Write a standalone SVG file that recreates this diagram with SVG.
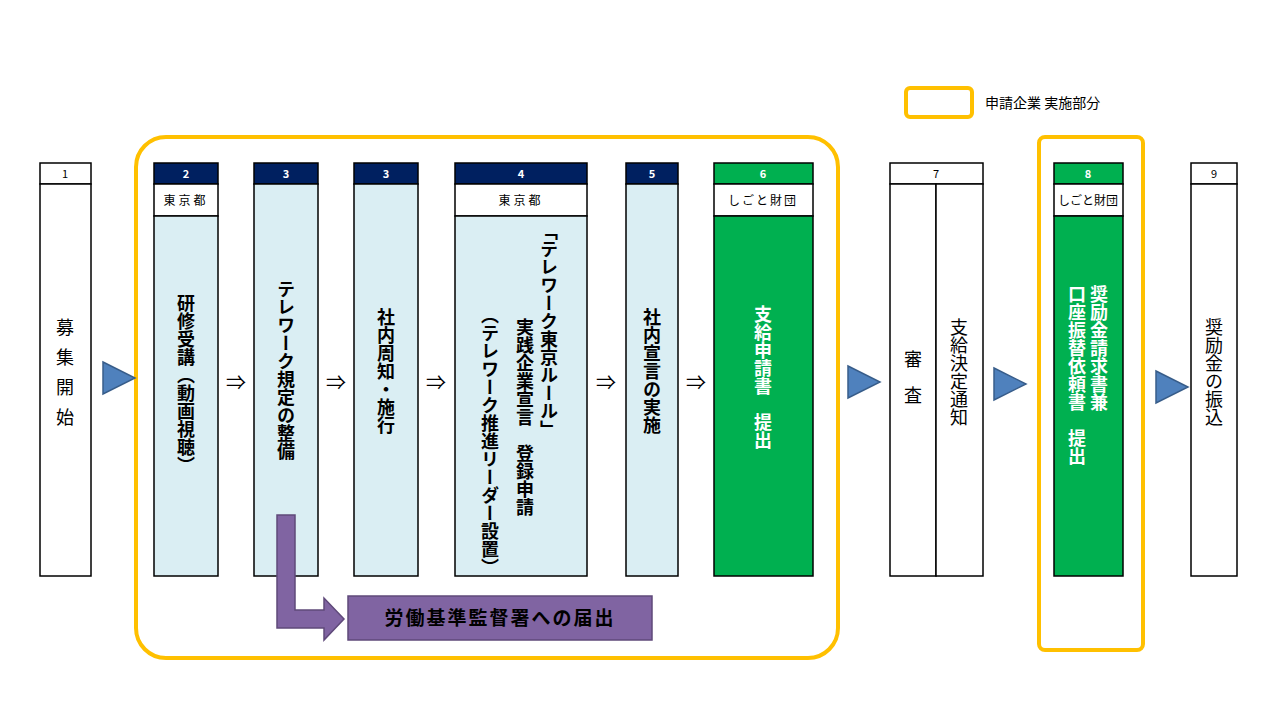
<svg xmlns="http://www.w3.org/2000/svg" width="1280" height="720" viewBox="0 0 1280 720">
<style>
text{font-family:"Noto Sans CJK JP","Liberation Sans",sans-serif;fill:#000}
.box{fill:#fff;stroke:#000;stroke-width:1.5}
.lb{fill:#DAEEF3;stroke:#000;stroke-width:1.5}
.gr{fill:#00B050;stroke:#000;stroke-width:1.5}
.nv{fill:#002060;stroke:#000;stroke-width:1.5}
.hn{font-size:11px;font-weight:bold;fill:#fff;text-anchor:middle}
.hb{font-size:11px;text-anchor:middle}
.sub{font-size:12px;text-anchor:middle}
.v{writing-mode:vertical-rl;font-size:18px}
.vb{writing-mode:vertical-rl;font-size:18px;font-weight:bold}
.w{fill:#fff}
.arr{font-size:20px;text-anchor:middle}
.tri{fill:#4F81BD;stroke:#385D8A;stroke-width:1.5}
.org{fill:none;stroke:#FFC000;stroke-width:4}
</style>
<rect class="org" x="136" y="137" width="702" height="521" rx="30"/>
<rect class="org" x="1039" y="137" width="104" height="513" rx="6"/>
<g id="legend"><rect class="org" x="906" y="88" width="66" height="29" rx="4"/><text x="985" y="108" font-size="14">申請企業 実施部分</text></g>
<g id="n1"><rect class="box" x="40" y="163" width="51" height="21"/><text class="hb" x="65" y="178">1</text><rect class="box" x="40" y="184" width="51" height="392"/><text class="v" x="65" y="318" letter-spacing="12">募集開始</text></g>
<g id="n2"><rect class="nv" x="154" y="163" width="64" height="21"/><text class="hn" x="186" y="178">2</text><rect class="box" x="154" y="184" width="64" height="32"/><text class="sub" x="186" y="205" letter-spacing="3">東京都</text><rect class="lb" x="154" y="216" width="64" height="360"/><text class="vb" x="186" y="294">研修受講（動画視聴）</text></g>
<g id="n3"><rect class="nv" x="254" y="163" width="64" height="21"/><text class="hn" x="286" y="178">3</text><rect class="lb" x="254" y="184" width="64" height="392"/><text class="vb" x="286" y="280">テレワーク規定の整備</text></g>
<g id="n3b"><rect class="nv" x="354" y="163" width="64" height="21"/><text class="hn" x="386" y="178">3</text><rect class="lb" x="354" y="184" width="64" height="392"/><text class="vb" x="386" y="308">社内周知・施行</text></g>
<g id="n4"><rect class="nv" x="455" y="163" width="132" height="21"/><text class="hn" x="521" y="178">4</text><rect class="box" x="455" y="184" width="132" height="32"/><text class="sub" x="521" y="205" letter-spacing="3">東京都</text><rect class="lb" x="455" y="216" width="132" height="360"/>
<text class="vb" x="549" y="222">「テレワーク東京ルール」</text><text class="vb" x="525" y="318">実践企業宣言　登録申請</text><text class="vb" x="490" y="306">（テレワーク推進リーダー設置）</text></g>
<g id="n5"><rect class="nv" x="626" y="163" width="52" height="21"/><text class="hn" x="652" y="178">5</text><rect class="lb" x="626" y="184" width="52" height="392"/><text class="vb" x="652" y="308">社内宣言の実施</text></g>
<g id="n6"><rect class="gr" x="714" y="163" width="99" height="21"/><text class="hn" x="763" y="178">6</text><rect class="box" x="714" y="184" width="99" height="32"/><text class="sub" x="763" y="205" letter-spacing="2">しごと財団</text><rect class="gr" x="714" y="216" width="99" height="360"/><text class="vb w" x="763" y="305" font-size="20">支給申請書　提出</text></g>
<g id="n7"><rect class="box" x="890" y="163" width="93" height="21"/><text class="hb" x="936" y="178">7</text><rect class="box" x="890" y="184" width="46" height="392"/><rect class="box" x="936" y="184" width="47" height="392"/><text class="v" x="913" y="350">審　査</text><text class="v" x="959" y="318">支給決定通知</text></g>
<g id="n8"><rect class="gr" x="1054" y="163" width="69" height="21"/><text class="hn" x="1088" y="178">8</text><rect class="box" x="1054" y="184" width="69" height="32"/><text class="sub" x="1088" y="205" font-size="11">しごと財団</text><rect class="gr" x="1054" y="216" width="69" height="360"/><text class="vb w" x="1099" y="285" font-size="20">奨励金請求書兼</text><text class="vb w" x="1077" y="285" font-size="20">口座振替依頼書　提出</text></g>
<g id="n9"><rect class="box" x="1191" y="163" width="46" height="21"/><text class="hb" x="1214" y="178">9</text><rect class="box" x="1191" y="184" width="46" height="392"/><text class="v" x="1214" y="318">奨励金の振込</text></g>
<g id="notify"><rect x="348" y="596" width="304" height="44" fill="#8064A2" stroke="#5F497A" stroke-width="1.5"/><text x="500" y="625" font-size="19" font-weight="bold" fill="#fff" text-anchor="middle" letter-spacing="2">労働基準監督署への届出</text></g>
<g id="connectors">
<text class="arr" x="236" y="390">⇒</text><text class="arr" x="336" y="390">⇒</text><text class="arr" x="436" y="390">⇒</text><text class="arr" x="606" y="390">⇒</text><text class="arr" x="696" y="390">⇒</text>
<polygon class="tri" points="103,362 135,378 103,394"/>
<polygon class="tri" points="848,366 880,382 848,398"/>
<polygon class="tri" points="994,368 1026,384 994,400"/>
<polygon class="tri" points="1156,371 1188,387 1156,403"/>
<polygon points="277,515 295,515 295,610 324,610 324,598 344,619 324,640 324,628 277,628" fill="#8064A2" stroke="#5F497A" stroke-width="1.5"/>
</g>
</svg>
